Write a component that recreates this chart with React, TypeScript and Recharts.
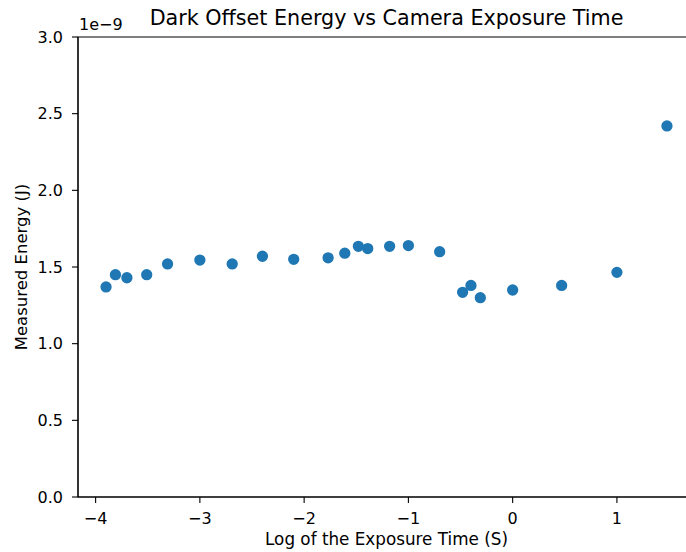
import { ScatterChart, Scatter, XAxis, YAxis, ZAxis, Label, ReferenceArea } from "recharts"

// log10 of exposure time (s)
const logExposure = [
  -3.9, -3.81, -3.7, -3.51, -3.31, -3.0, -2.69, -2.4, -2.1, -1.77, -1.61, -1.48,
  -1.39, -1.18, -1.0, -0.7, -0.48, -0.4, -0.31, 0.0, 0.47, 1.0, 1.48,
]
// measured dark offset energy, in units of 1e-9 J
const energy = [
  1.37, 1.45, 1.43, 1.45, 1.52, 1.545, 1.52, 1.57, 1.55, 1.56, 1.59, 1.635,
  1.62, 1.635, 1.64, 1.6, 1.335, 1.38, 1.3, 1.35, 1.38, 1.465, 2.42,
]
const xTicks = [-4, -3, -2, -1, 0, 1]
const yTicks = [0, 0.5, 1.0, 1.5, 2.0, 2.5, 3.0]
const X_DOMAIN: [number, number] = [-4.169, 1.749]
const Y_DOMAIN: [number, number] = [0, 3]

const data = logExposure.map((x, i) => ({ x, y: energy[i] }))

const font = "'DejaVu Sans', sans-serif"
const fmtX = (v: number) => (v < 0 ? `\u2212${Math.abs(v)}` : `${v}`)

export default function App() {
  return (
    <div
      style={{
        position: "absolute",
        left: 0,
        top: 0,
        width: 686,
        height: 552,
        overflow: "hidden",
        background: "#fff",
        fontFamily: font,
      }}
    >
      <div
        style={{
          position: "absolute",
          left: 0,
          width: 773,
          top: 6,
          textAlign: "center",
          fontSize: 20.7,
          color: "#000",
          lineHeight: "24px",
          whiteSpace: "nowrap",
        }}
      >
        Dark Offset Energy vs Camera Exposure Time
      </div>
      <div style={{ position: "absolute", left: 79, top: 15, fontSize: 16, color: "#000", lineHeight: "19px" }}>
        1e&minus;9
      </div>
      <ScatterChart width={696} height={552} margin={{ top: 37, right: 1, bottom: 0, left: 0 }}>
        <ReferenceArea
          x1={X_DOMAIN[0]}
          x2={X_DOMAIN[1]}
          y1={Y_DOMAIN[0]}
          y2={Y_DOMAIN[1]}
          fill="none"
          stroke="#000"
          strokeWidth={1.1}
          ifOverflow="extendDomain"
        />
        <XAxis
          type="number"
          dataKey="x"
          domain={X_DOMAIN}
          ticks={xTicks}
          tickFormatter={fmtX}
          allowDataOverflow
          height={55}
          tickSize={6}
          tickMargin={10}
          stroke="#000"
          strokeWidth={1.1}
          tick={{ fill: "#000", fontSize: 16, fontFamily: font }}
        >
          <Label
            value="Log of the Exposure Time (S)"
            position="insideBottom"
            offset={7}
            style={{ fill: "#000", fontSize: 16.8, fontFamily: font }}
          />
        </XAxis>
        <YAxis
          type="number"
          dataKey="y"
          domain={Y_DOMAIN}
          ticks={yTicks}
          tickFormatter={(v: number) => v.toFixed(1)}
          allowDataOverflow
          width={78}
          tickSize={6}
          tickMargin={9}
          stroke="#000"
          strokeWidth={1.1}
          tick={{ fill: "#000", fontSize: 16, fontFamily: font }}
        >
          <Label
            value="Measured Energy (J)"
            angle={-90}
            position="insideLeft"
            offset={21}
            style={{ fill: "#000", fontSize: 16.5, fontFamily: font, textAnchor: "middle" }}
          />
        </YAxis>
        <ZAxis range={[100, 100]} />
        <Scatter data={data} fill="#1f77b4" isAnimationActive={false} />
      </ScatterChart>
    </div>
  )
}
